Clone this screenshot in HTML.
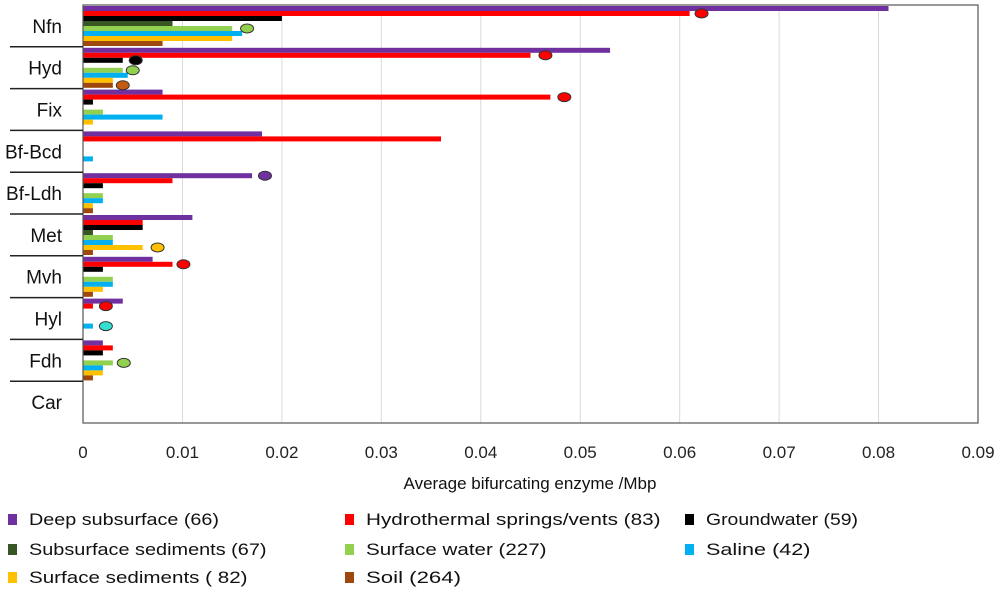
<!DOCTYPE html>
<html><head><meta charset="utf-8"><style>
body{margin:0;background:#fff;width:1000px;height:597px;overflow:hidden;font-family:"Liberation Sans",sans-serif}
</style></head><body>
<svg id="chart" width="1000" height="597" xmlns="http://www.w3.org/2000/svg" font-family="Liberation Sans, sans-serif"></svg>
<script>
const categories=["Nfn","Hyd","Fix","Bf-Bcd","Bf-Ldh","Met","Mvh","Hyl","Fdh","Car"];
const seriesNames=["Deep subsurface (66)","Hydrothermal springs/vents (83)","Groundwater (59)","Subsurface sediments (67)","Surface water (227)","Saline (42)","Surface sediments ( 82)","Soil (264)"];
const seriesColors=["#7030a0","#ff0000","#000000","#375623","#92d050","#00b0f0","#ffc000","#9e480e"];
const deepSubsurface=[0.081,0.053,0.008,0.018,0.017,0.011,0.007,0.004,0.002,0];
const hydrothermal=[0.061,0.045,0.047,0.036,0.009,0.006,0.009,0.001,0.003,0];
const groundwater=[0.020,0.004,0.001,0,0.002,0.006,0.002,0,0.002,0];
const subsurfaceSediments=[0.009,0,0,0,0,0.001,0,0,0,0];
const surfaceWater=[0.015,0.004,0.002,0,0.002,0.003,0.003,0,0.003,0];
const saline=[0.016,0.0045,0.008,0.001,0.002,0.003,0.003,0.001,0.002,0];
const surfaceSediments=[0.015,0.003,0.001,0,0.001,0.006,0.002,0,0.002,0];
const soil=[0.008,0.003,0,0,0.001,0.001,0.001,0,0.001,0];
const markerCategory=["Nfn","Nfn","Hyd","Hyd","Hyd","Hyd","Fix","Bf-Ldh","Met","Mvh","Hyl","Hyl","Fdh"];
const markerSeries=[1,4,1,2,4,7,1,0,6,1,1,5,4];
const markerValue=[0.0622,0.0165,0.0465,0.0053,0.005,0.004,0.0484,0.0183,0.0075,0.0101,0.0023,0.0023,0.0041];
const markerColors=["#ff0000","#92d050","#ff0000","#000000","#92d050","#c55a11","#ff0000","#7030a0","#ffc000","#ff0000","#ff0000","#33e0d0","#92d050"];
const xTicks=[0,0.01,0.02,0.03,0.04,0.05,0.06,0.07,0.08,0.09];
const xTickLabels=["0","0.01","0.02","0.03","0.04","0.05","0.06","0.07","0.08","0.09"];
const series=[deepSubsurface,hydrothermal,groundwater,subsurfaceSediments,surfaceWater,saline,surfaceSediments,soil];

const NS="http://www.w3.org/2000/svg";
const svg=document.getElementById('chart');
const L=83,R=978,T=5,B=423,XMAX=0.09;
const band=(B-T)/categories.length;
const barH=5;
function xs(v){return L+v/XMAX*(R-L);}
function ys(ci,si){return T+ci*band+1+si*barH;}
function el(tag,attrs,txt){const e=document.createElementNS(NS,tag);for(const k in attrs)e.setAttribute(k,attrs[k]);if(txt!=null)e.textContent=txt;svg.appendChild(e);return e;}

xTicks.forEach((t,i)=>{
  if(i>0){const g=el('line',{x1:xs(t),x2:xs(t),y1:T,y2:B,stroke:'#d9d9d9','stroke-width':1});
  
  }
  const tl=el('text',{x:xs(t),y:458,'text-anchor':'middle','font-size':17,fill:'#222'},xTickLabels[i]);
  
  
});
series.forEach((s,si)=>{
  s.forEach((v,ci)=>{
    if(v<=0)return;
    const r=el('rect',{x:L,y:ys(ci,si),width:xs(v)-L,height:barH,fill:seriesColors[si]});
    
    
  });
});
markerValue.forEach((v,i)=>{
  const ci=categories.indexOf(markerCategory[i]);
  const m=el('ellipse',{cx:xs(v),cy:ys(ci,markerSeries[i])+barH/2,rx:6.5,ry:4.5,fill:markerColors[i],stroke:'#333','stroke-width':1});
  
  
});
const frame=el('rect',{x:L,y:T,width:R-L,height:B-T,fill:'none',stroke:'#555','stroke-width':1.2});


categories.forEach((c,ci)=>{
  const lab=el('text',{x:62,y:T+ci*band+band/2+7,'text-anchor':'end','font-size':19,fill:'#111'},c);
  
  
  if(ci<categories.length-1){
    const ln=el('line',{x1:10,x2:L,y1:T+(ci+1)*band,y2:T+(ci+1)*band,stroke:'#222','stroke-width':1.5});
    
    
  }
});
const xt=el('text',{x:530,y:489,'text-anchor':'middle','font-size':17,fill:'#111'},'Average bifurcating enzyme /Mbp');


const legPos=[[8,521],[345,521],[685,521],[8,551],[345,551],[685,551],[8,579],[345,579]];
seriesNames.forEach((n,i)=>{
  const [x,y]=legPos[i];
  const sq=el('rect',{x:x,y:y-7,width:9,height:11,fill:seriesColors[i]});
  
  
  const t=el('text',{x:x+21,y:y+4,'font-size':17,fill:'#111',textLength:n.length*9.5,lengthAdjust:'spacingAndGlyphs'},n);
  
  
});
</script>
</body></html>
